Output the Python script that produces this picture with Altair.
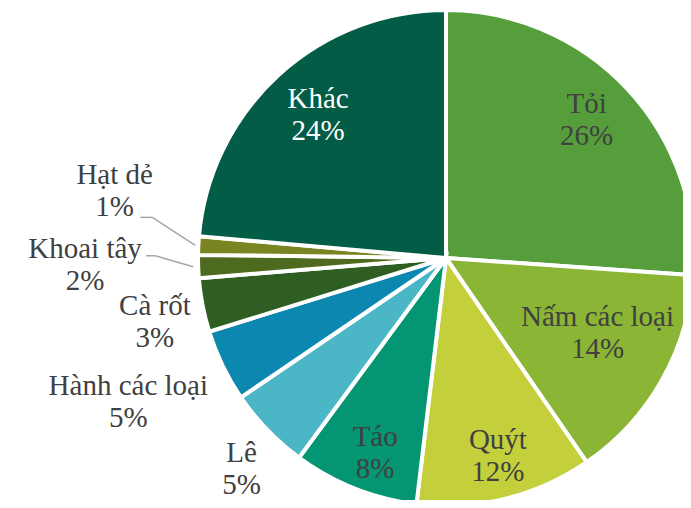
import math
import altair as alt
import pandas as pd

# ---- data ----
categories = ["Tỏi", "Nấm các loại", "Quýt", "Táo", "Lê", "Hành các loại",
              "Cà rốt", "Khoai tây", "Hạt dẻ", "Khác"]
values = [26.1, 14.3, 11.5, 8.2, 5.4, 4.7, 3.5, 1.5, 1.2, 23.6]
pct_labels = ["26%", "14%", "12%", "8%", "5%", "5%", "3%", "2%", "1%", "24%"]

# ---- styling ----
colors = ["#559E3B", "#8BB535", "#C4D03B", "#049672", "#4BB6C5", "#0C88B0",
          "#2E5E22", "#4E6A1F", "#7B8422", "#035C45"]
CX, CY, R = 438, 250, 248
TEXT_COLOR = "#404040"
FONT = "Liberation Serif, Times New Roman, serif"

# label placement style: (radius, angle tweak in degrees, colour)
label_style = {
    "Tỏi": (197, -1.4, TEXT_COLOR), "Nấm các loại": (169, -3.4, TEXT_COLOR),
    "Quýt": (205, -0.8, TEXT_COLOR), "Táo": (207, -1.6, TEXT_COLOR),
    "Lê": (294, -2.0, TEXT_COLOR), "Hành các loại": (349, 1.3, TEXT_COLOR),
    "Cà rốt": (298, -1.4, TEXT_COLOR), "Khoai tây": (361, 0.9, TEXT_COLOR),
    "Hạt dẻ": (338, 8.5, TEXT_COLOR), "Khác": (192, 0.7, "#FFFFFF"),
}
# leader line style: (start radius, elbow dx, elbow dy, horizontal dx)
leader_style = {"Hạt dẻ": (251, -43, -28, -12), "Khoai tây": (253, -38, -11, -9)}

df = pd.DataFrame({"category": categories, "value": values,
                   "pct": pct_labels, "order": list(range(len(categories)))})

pie = alt.Chart(df).mark_arc(outerRadius=R, stroke="white", strokeWidth=4).encode(
    theta=alt.Theta("value:Q", stack=True),
    color=alt.Color("category:N", scale=alt.Scale(domain=categories, range=colors), legend=None),
    order=alt.Order("order:Q"),
    x=alt.value(CX), y=alt.value(CY),
)

base = (alt.Chart(df)
        .transform_joinaggregate(total="sum(value)")
        .transform_window(cum="sum(value)", sort=[alt.SortField("order")], frame=[None, 0])
        .transform_calculate(mid="2*PI*(datum.cum - datum.value/2)/datum.total"))

layers = [pie]
for c in categories:
    r, dt, col = label_style[c]
    dtr = math.radians(dt)
    t = (base.transform_filter(alt.datum.category == c)
         .transform_calculate(
             lx=f"{CX} + {r}*sin(datum.mid + {dtr})",
             ly=f"{CY} - {r}*cos(datum.mid + {dtr})",
             txt="datum.category + '\\n' + datum.pct")
         .mark_text(font=FONT, fontSize=29, lineHeight=32, lineBreak="\n",
                    color=col, align="center", baseline="middle", dy=-16)
         .encode(x=alt.X("lx:Q", scale=None, axis=None),
                 y=alt.Y("ly:Q", scale=None, axis=None),
                 text="txt:N"))
    layers.append(t)

for c, (r0, edx, edy, hdx) in leader_style.items():
    lb = (base.transform_filter(alt.datum.category == c)
          .transform_calculate(
              sx=f"{CX} + {r0}*sin(datum.mid)",
              sy=f"{CY} - {r0}*cos(datum.mid)")
          .transform_calculate(ex=f"datum.sx + ({edx})", ey=f"datum.sy + ({edy})")
          .transform_calculate(hx=f"datum.ex + ({hdx})"))
    seg1 = lb.mark_rule(color="#A6A6A6", strokeWidth=1.5).encode(
        x=alt.X("sx:Q", scale=None, axis=None), y=alt.Y("sy:Q", scale=None, axis=None),
        x2="ex:Q", y2="ey:Q")
    seg2 = lb.mark_rule(color="#A6A6A6", strokeWidth=1.5).encode(
        x=alt.X("ex:Q", scale=None, axis=None), y=alt.Y("ey:Q", scale=None, axis=None),
        x2="hx:Q", y2="ey:Q")
    layers += [seg1, seg2]

chart = alt.layer(*layers).properties(
    width=675, height=492, padding=0, autosize="none"
).configure_view(stroke=None)

chart.save("out.html", embed_options={"renderer": "svg", "actions": False})
